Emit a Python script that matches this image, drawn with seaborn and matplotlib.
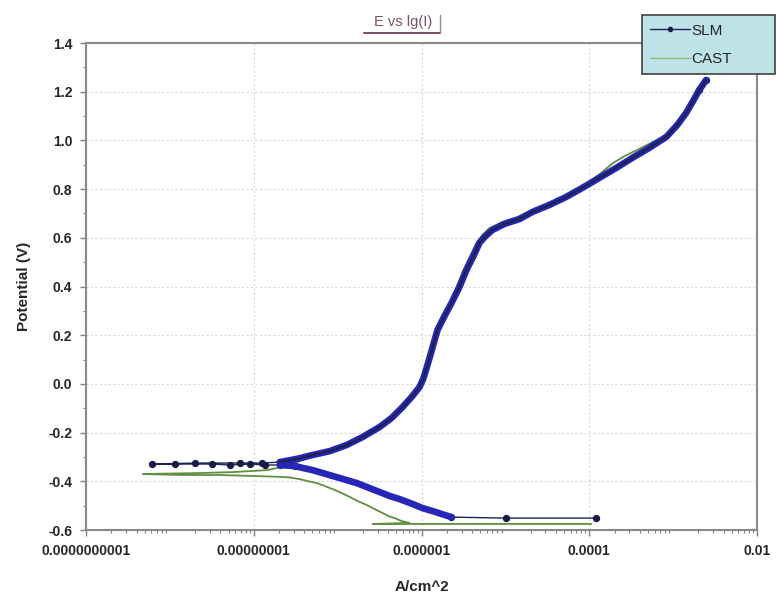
import numpy as np
import pandas as pd
import matplotlib
matplotlib.use("Agg")
import matplotlib.pyplot as plt
from matplotlib.lines import Line2D
from matplotlib.ticker import NullFormatter, LogLocator
import seaborn as sns

# ---- data (log10 of current density A/cm^2, potential V), in scan order ----
slm_log_i = [
    # sparse cathodic start
    -3.917, -4.988,
    # cathodic branch
    -5.643, -5.762, -5.869, -5.988, -6.107, -6.262, -6.381, -6.500, -6.655,
    -6.774, -6.893, -7.060, -7.179, -7.298, -7.417, -7.512, -7.690,
    # scatter near Ecorr
    -7.869, -8.048, -8.286, -8.500, -8.940, -9.214, -8.700, -8.167, -7.905,
    # anodic branch
    -7.690, -7.488, -7.298, -7.095, -6.893, -6.702, -6.500, -6.357, -6.226, -6.119,
    -6.024, -5.976, -5.940, -5.905, -5.857, -5.810, -5.726, -5.643, -5.548, -5.464,
    -5.381, -5.310, -5.238, -5.155, -5.012, -4.833, -4.679, -4.476, -4.274, -4.083,
    -3.881, -3.679, -3.488, -3.286, -3.083, -2.952, -2.845, -2.762, -2.690, -2.607]
slm_potential = [
    -0.551, -0.551,
    -0.547, -0.534, -0.522, -0.510, -0.493, -0.473, -0.460, -0.444, -0.423,
    -0.407, -0.395, -0.378, -0.366, -0.354, -0.345, -0.337, -0.333,
    -0.333, -0.329, -0.333, -0.329, -0.329, -0.329, -0.325, -0.325, -0.325,
    -0.321, -0.308, -0.292, -0.276, -0.251, -0.218, -0.177, -0.140, -0.095, -0.054,
    -0.013, 0.024, 0.065, 0.106, 0.164, 0.221, 0.279, 0.332, 0.398, 0.468,
    0.525, 0.579, 0.607, 0.632, 0.657, 0.677, 0.706, 0.735, 0.768, 0.805,
    0.846, 0.887, 0.928, 0.969, 1.014, 1.063, 1.113, 1.162, 1.207, 1.248]

cast_log_i = [
    -3.976, -6.583,
    -6.143, -6.238, -6.321, -6.393, -6.464, -6.560, -6.655, -6.762, -6.857,
    -6.952, -7.060, -7.155, -7.250, -7.357, -7.452, -7.571, -7.655, -7.833,
    -8.012, -8.405, -8.881, -9.321,
    -8.643, -8.250, -7.845,
    -7.607, -7.452, -7.298, -7.095, -6.893, -6.702, -6.500, -6.357, -6.226, -6.119,
    -6.036, -5.988, -5.952, -5.917, -5.869, -5.821, -5.750, -5.667, -5.583, -5.500,
    -5.417, -5.345, -5.274, -5.190, -5.036, -4.857, -4.679, -4.476, -4.274, -4.083,
    -3.881, -3.726, -3.583, -3.405, -3.083, -2.952, -2.845, -2.750, -2.667]
cast_potential = [
    -0.575, -0.575,
    -0.571, -0.563, -0.551, -0.543, -0.530, -0.514, -0.497, -0.481, -0.464,
    -0.448, -0.432, -0.419, -0.407, -0.399, -0.391, -0.384, -0.382, -0.380,
    -0.378, -0.374, -0.374, -0.370,
    -0.366, -0.362, -0.354,
    -0.337, -0.317, -0.296, -0.280, -0.255, -0.222, -0.181, -0.144, -0.099, -0.058,
    -0.017, 0.024, 0.065, 0.106, 0.164, 0.221, 0.279, 0.332, 0.398, 0.468,
    0.529, 0.579, 0.612, 0.640, 0.665, 0.685, 0.714, 0.743, 0.776, 0.812,
    0.860, 0.905, 0.935, 0.965, 1.022, 1.072, 1.122, 1.175, 1.228]

x_ticks = [1e-10, 1e-8, 1e-6, 1e-4, 1e-2]
x_tick_labels = ["0.0000000001", "0.00000001", "0.000001", "0.0001", "0.01"]
y_ticks = [1.4, 1.2, 1.0, 0.8, 0.6, 0.4, 0.2, 0.0, -0.2, -0.4, -0.6]
y_tick_labels = ["1.4", "1.2", "1.0", "0.8", "0.6", "0.4", "0.2", "0.0", "-0.2", "-0.4", "-0.6"]

slm = pd.DataFrame({"current": 10.0 ** np.array(slm_log_i), "potential": slm_potential})
cast = pd.DataFrame({"current": 10.0 ** np.array(cast_log_i), "potential": cast_potential})

sns.set_style("white")
plt.rcParams["font.family"] = ["Liberation Sans", "DejaVu Sans"]

fig = plt.figure(figsize=(7.77, 5.95), dpi=100)
ax = fig.add_axes([0.1107, 0.1092, 0.8636, 0.8185])
ax.set_xscale("log")

slm_thick = "#2626b8"
slm_dark = "#1c2452"
cast_color = "#5f9040"

kw = dict(x="current", y="potential", sort=False, estimator=None, ax=ax)

# thin SLM line with markers on the sparse points
sparse_idx = [0, 1, 2] + list(range(17, 29)) + [66, 67]
sns.lineplot(data=slm, color=slm_dark, lw=1.0, marker="o", markersize=4.5,
             markevery=sparse_idx,
             markerfacecolor="#1a1a48", markeredgecolor="#1a1a48", zorder=3, **kw)
# CAST
sns.lineplot(data=cast, color=cast_color, lw=1.3, zorder=4, **kw)
# dense measured branches of SLM appear as thick blue bands
sns.lineplot(data=slm.iloc[2:19], color=slm_thick, lw=4.8, zorder=5, **kw)
sns.lineplot(data=slm.iloc[28:], color=slm_thick, lw=4.8, zorder=5, **kw)
sns.lineplot(data=slm.iloc[28:], color=slm_dark, lw=1.8, zorder=6, **kw)

ax.set_xlim(1e-10, 1e-2)
ax.set_ylim(-0.6, 1.4)
ax.set_xticks(x_ticks)
ax.set_xticklabels(x_tick_labels)
ax.xaxis.set_minor_locator(LogLocator(base=10, subs=np.arange(2, 10), numticks=50))
ax.xaxis.set_minor_formatter(NullFormatter())
ax.set_yticks(y_ticks)
ax.set_yticklabels(y_tick_labels)
ax.set_yticks(np.arange(-0.6, 1.41, 0.1), minor=True)

for lab in ax.get_xticklabels() + ax.get_yticklabels():
    lab.set_fontweight("bold")
    lab.set_fontsize(10)

ax.tick_params(axis="both", which="major", direction="out", length=4, width=1,
               color="#808080", bottom=True, left=True, pad=6)
ax.tick_params(axis="both", which="minor", direction="out", length=2, width=0.8,
               color="#808080", bottom=True, left=True)

ax.grid(True, which="major", color="#d8d8d8", linestyle=(0, (2, 2)), lw=0.8)
for s in ax.spines.values():
    s.set_color("#8a8a8a")
    s.set_linewidth(1.5)

ax.set_xlabel("A/cm^2", fontsize=11, fontweight="bold", labelpad=16)
ax.set_ylabel("Potential (V)", fontsize=11, fontweight="bold", labelpad=12)

# title (underlined, with a small bracket on the right)
fig.text(0.5185, 0.963, "E vs lg(I)", fontsize=10.5, color="#7a5068",
         ha="center", va="center")
fig.add_artist(Line2D([0.468, 0.566], [0.944, 0.944], transform=fig.transFigure,
                      color="#7a5068", lw=1.4))
fig.add_artist(Line2D([0.566, 0.566], [0.944, 0.975], transform=fig.transFigure,
                      color="#a08898", lw=1.0))

# legend
handles = [Line2D([], [], color=slm_dark, lw=1.0, marker="o", markersize=3,
                  markerfacecolor="#1a1a48", markeredgecolor="#1a1a48"),
           Line2D([], [], color="#8cc070", lw=1.0)]
leg = fig.legend(handles, ["SLM", "CAST"], loc="upper left",
                 bbox_to_anchor=(0.826, 0.8655, 0.172, 0.109), mode="expand",
                 frameon=True, fancybox=False, fontsize=11, handlelength=2.6,
                 handletextpad=0.1, borderaxespad=0, labelspacing=0.95,
                 borderpad=0.55)
leg.get_frame().set_facecolor("#bde2e8")
leg.get_frame().set_edgecolor("#404040")
leg.get_frame().set_linewidth(1.2)
leg.get_frame().set_alpha(1)
leg.set_zorder(10)

fig.savefig("out.png", dpi=100)
